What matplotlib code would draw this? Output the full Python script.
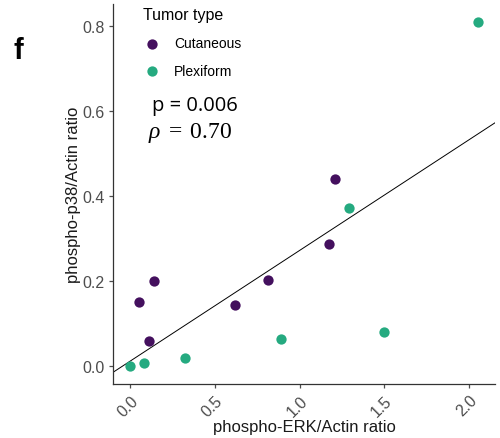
import numpy as np
import matplotlib
matplotlib.use('Agg')
import matplotlib.pyplot as plt

# values
cut_erk = [1.21, 1.17, 0.81, 0.62, 0.14, 0.05, 0.11]
cut_p38 = [0.44, 0.286, 0.202, 0.143, 0.199, 0.151, 0.059]
plex_erk = [2.05, 1.29, 1.50, 0.89, 0.32, 0.08, 0.0]
plex_p38 = [0.81, 0.373, 0.081, 0.063, 0.018, 0.006, 0.0]
groups = ['Cutaneous', 'Plexiform']
colors = ['#44105e', '#25aa80']
x_ticks = [0.0, 0.5, 1.0, 1.5, 2.0]
y_ticks = [0.0, 0.2, 0.4, 0.6, 0.8]

plt.rcParams['font.family'] = ['Liberation Sans', 'DejaVu Sans']
plt.rcParams['mathtext.fontset'] = 'custom'
plt.rcParams['mathtext.rm'] = 'Liberation Serif'
plt.rcParams['mathtext.it'] = 'Liberation Serif:italic'

fig = plt.figure(figsize=(5.0, 4.39), dpi=100)
ax = fig.add_axes([0.226, 0.123, 0.764, 0.866])

ax.scatter(cut_erk, cut_p38, s=55, color=colors[0], label=groups[0], zorder=3, linewidths=0)
ax.scatter(plex_erk, plex_p38, s=55, color=colors[1], label=groups[1], zorder=3, linewidths=0)

# linear fit over all samples
all_x = np.array(cut_erk + plex_erk)
all_y = np.array(cut_p38 + plex_p38)
slope, icpt = np.polyfit(all_x, all_y, 1)
xlim = (-0.1025, 2.1525)
xs = np.array(xlim)
ax.plot(xs, slope * xs + icpt, color='black', linewidth=0.7, zorder=2)

ax.set_xlim(*xlim)
ax.set_ylim(-0.0425, 0.8525)
ax.set_xticks(x_ticks)
ax.set_xticklabels([f'{v:.1f}' for v in x_ticks], rotation=45, ha='right',
                   rotation_mode='anchor')
ax.set_yticks(y_ticks)
ax.set_yticklabels([f'{v:.1f}' for v in y_ticks])
ax.tick_params(axis='both', colors='#4d4d4d', labelsize=11.5, length=3, width=0.9,
               labelcolor='#4d4d4d', pad=3)
for side in ['top', 'right']:
    ax.spines[side].set_visible(False)
for side in ['left', 'bottom']:
    ax.spines[side].set_color('#333333')
    ax.spines[side].set_linewidth(0.9)

ax.set_xlabel('phospho-ERK/Actin ratio', fontsize=12, color='#1a1a1a', labelpad=0)
ax.set_ylabel('phospho-p38/Actin ratio', fontsize=12, color='#1a1a1a', labelpad=1)

leg = ax.legend(title='Tumor type', loc='upper left', bbox_to_anchor=(0.05, 1.02),
                frameon=False, fontsize=10, title_fontsize=11.5, handletextpad=1.0,
                handlelength=1.2, labelspacing=1.0, borderpad=0.3)
leg._legend_box.align = 'left'

fig.text(0.305, 0.748, 'p = 0.006', fontsize=14.5, family='Open Sans', color='black')
fig.text(0.296, 0.685, r'$\rho\; = \;0.70$', fontsize=17, color='black')
fig.text(0.028, 0.865, 'f', fontsize=21, fontweight='bold', color='black')

fig.savefig('out.png', dpi=100)
